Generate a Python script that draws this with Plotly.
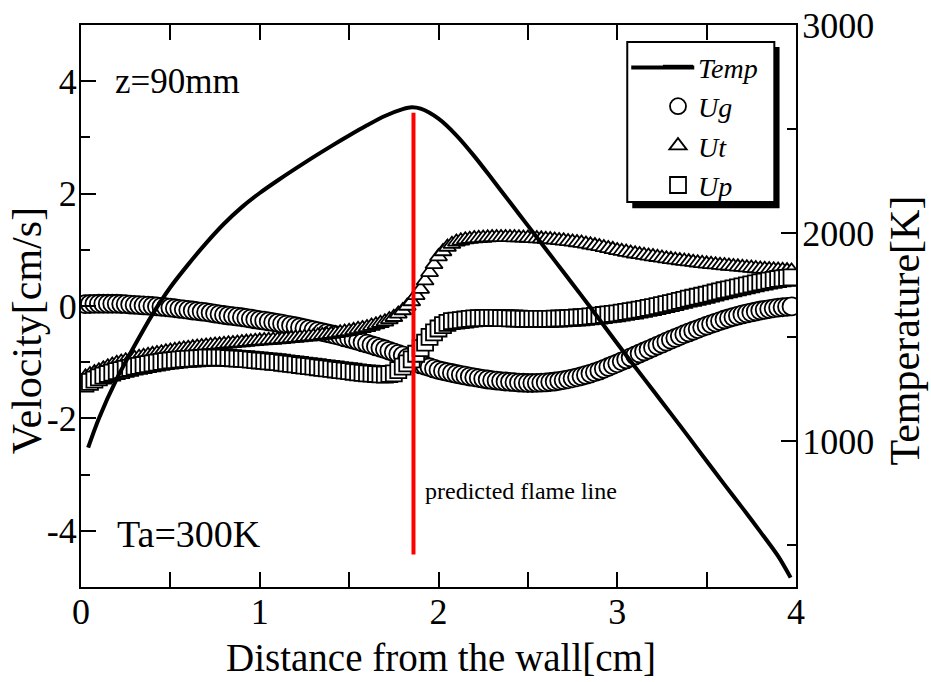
import plotly.graph_objects as go

FONT = "Liberation Serif, Times New Roman, serif"

# distance from the wall [cm] for the velocity samples
x_pos = [
    0.025, 0.05, 0.075,
    0.1, 0.125, 0.15, 0.175, 0.2, 0.225, 0.25, 0.275, 0.3, 0.325, 0.35, 0.375,
    0.4, 0.425, 0.45, 0.475, 0.5, 0.525, 0.55, 0.575, 0.6, 0.625, 0.65, 0.675,
    0.7, 0.725, 0.75, 0.775, 0.8, 0.825, 0.85, 0.875, 0.9, 0.925, 0.95, 0.975,
    1.0, 1.025, 1.05, 1.075, 1.1, 1.125, 1.15, 1.175, 1.2, 1.225, 1.25, 1.275,
    1.3, 1.325, 1.35, 1.375, 1.4, 1.425, 1.45, 1.475, 1.5, 1.525, 1.55, 1.575,
    1.6, 1.625, 1.65, 1.675, 1.7, 1.725, 1.75, 1.775, 1.8, 1.825, 1.85, 1.875,
    1.9, 1.925, 1.95, 1.975, 2.0, 2.025, 2.05, 2.075, 2.1, 2.125, 2.15, 2.175,
    2.2, 2.225, 2.25, 2.275, 2.3, 2.325, 2.35, 2.375, 2.4, 2.425, 2.45, 2.475,
    2.5, 2.525, 2.55, 2.575, 2.6, 2.625, 2.65, 2.675, 2.7, 2.725, 2.75, 2.775,
    2.8, 2.825, 2.85, 2.875, 2.9, 2.925, 2.95, 2.975, 3.0, 3.025, 3.05, 3.075,
    3.1, 3.125, 3.15, 3.175, 3.2, 3.225, 3.25, 3.275, 3.3, 3.325, 3.35, 3.375,
    3.4, 3.425, 3.45, 3.475, 3.5, 3.525, 3.55, 3.575, 3.6, 3.625, 3.65, 3.675,
    3.7, 3.725, 3.75, 3.775, 3.8, 3.825, 3.85, 3.875, 3.9, 3.925, 3.95, 3.975,
]

# gas velocity Ug [cm/s]
ug = [
    0.033, 0.036, 0.038,
    0.04, 0.04, 0.04, 0.04, 0.04, 0.036, 0.032, 0.026, 0.02, 0.015, 0.01, 0.005,
    0.0, -0.008, -0.015, -0.022, -0.03, -0.04, -0.05, -0.06, -0.07, -0.08, -0.09, -0.10,
    -0.11, -0.122, -0.135, -0.148, -0.16, -0.17, -0.18, -0.19, -0.2, -0.212, -0.225, -0.238,
    -0.25, -0.262, -0.275, -0.288, -0.3, -0.315, -0.33, -0.345, -0.36, -0.378, -0.395, -0.412,
    -0.43, -0.448, -0.465, -0.482, -0.5, -0.52, -0.54, -0.56, -0.58, -0.602, -0.625, -0.648,
    -0.67, -0.695, -0.72, -0.745, -0.77, -0.797, -0.825, -0.852, -0.88, -0.92, -0.96, -1.0,
    -1.04, -1.065, -1.09, -1.115, -1.14, -1.158, -1.175, -1.192, -1.21, -1.225, -1.24, -1.255,
    -1.27, -1.283, -1.296, -1.308, -1.32, -1.328, -1.336, -1.343, -1.35, -1.356, -1.362, -1.366,
    -1.37, -1.37, -1.368, -1.365, -1.36, -1.352, -1.343, -1.332, -1.32, -1.304, -1.287, -1.27,
    -1.25, -1.226, -1.202, -1.177, -1.15, -1.118, -1.085, -1.052, -1.02, -0.985, -0.95, -0.915,
    -0.88, -0.845, -0.81, -0.775, -0.74, -0.705, -0.67, -0.635, -0.6, -0.568, -0.535, -0.502,
    -0.47, -0.44, -0.41, -0.38, -0.35, -0.322, -0.295, -0.268, -0.24, -0.218, -0.195, -0.172,
    -0.15, -0.132, -0.115, -0.098, -0.08, -0.068, -0.055, -0.042, -0.03, -0.022, -0.015, -0.007,
]

# thermophoretic velocity Ut [cm/s]
ut = [
    -1.26, -1.22, -1.185,
    -1.15, -1.115, -1.08, -1.05, -1.02, -0.997, -0.975, -0.952, -0.93, -0.912, -0.895, -0.877,
    -0.86, -0.845, -0.83, -0.815, -0.8, -0.787, -0.775, -0.762, -0.75, -0.74, -0.73, -0.72,
    -0.71, -0.702, -0.695, -0.688, -0.68, -0.672, -0.665, -0.657, -0.65, -0.642, -0.635, -0.627,
    -0.62, -0.615, -0.61, -0.605, -0.6, -0.592, -0.585, -0.577, -0.57, -0.562, -0.555, -0.547,
    -0.54, -0.53, -0.52, -0.51, -0.5, -0.488, -0.475, -0.462, -0.45, -0.433, -0.415, -0.398,
    -0.38, -0.357, -0.333, -0.307, -0.28, -0.24, -0.2, -0.14, -0.08, 0.0, 0.08, 0.19,
    0.3, 0.45, 0.6, 0.74, 0.88, 0.97, 1.05, 1.1, 1.14, 1.16, 1.18, 1.19,
    1.2, 1.205, 1.21, 1.215, 1.22, 1.22, 1.22, 1.22, 1.22, 1.218, 1.215, 1.212,
    1.21, 1.205, 1.2, 1.195, 1.19, 1.183, 1.175, 1.168, 1.16, 1.15, 1.14, 1.13,
    1.12, 1.105, 1.09, 1.075, 1.06, 1.042, 1.025, 1.008, 0.99, 0.975, 0.96, 0.945,
    0.93, 0.917, 0.905, 0.892, 0.88, 0.867, 0.855, 0.842, 0.83, 0.82, 0.81, 0.8,
    0.79, 0.78, 0.77, 0.76, 0.75, 0.742, 0.735, 0.727, 0.72, 0.712, 0.705, 0.697,
    0.69, 0.682, 0.675, 0.667, 0.66, 0.655, 0.65, 0.645, 0.64, 0.635, 0.63, 0.625,
]

# particle velocity Up [cm/s]
up = [
    -1.38, -1.35, -1.31,
    -1.27, -1.24, -1.21, -1.185, -1.16, -1.14, -1.12, -1.1, -1.08, -1.065, -1.05, -1.035,
    -1.02, -1.007, -0.995, -0.982, -0.97, -0.962, -0.955, -0.947, -0.94, -0.935, -0.93, -0.925,
    -0.92, -0.92, -0.92, -0.92, -0.92, -0.925, -0.93, -0.935, -0.94, -0.947, -0.955, -0.962,
    -0.97, -0.977, -0.985, -0.992, -1.0, -1.01, -1.02, -1.03, -1.04, -1.05, -1.06, -1.07,
    -1.08, -1.09, -1.1, -1.11, -1.12, -1.13, -1.14, -1.15, -1.16, -1.17, -1.18, -1.19,
    -1.2, -1.205, -1.21, -1.215, -1.22, -1.21, -1.2, -1.14, -1.08, -1.02, -0.95, -0.85,
    -0.75, -0.65, -0.55, -0.47, -0.4, -0.34, -0.3, -0.27, -0.26, -0.25, -0.24, -0.23,
    -0.22, -0.217, -0.215, -0.212, -0.21, -0.212, -0.215, -0.217, -0.22, -0.222, -0.225, -0.228,
    -0.23, -0.23, -0.23, -0.23, -0.23, -0.228, -0.225, -0.222, -0.22, -0.215, -0.21, -0.205,
    -0.2, -0.193, -0.185, -0.177, -0.17, -0.16, -0.15, -0.14, -0.13, -0.117, -0.105, -0.092,
    -0.08, -0.065, -0.05, -0.035, -0.02, -0.002, 0.015, 0.032, 0.05, 0.07, 0.09, 0.11,
    0.13, 0.147, 0.165, 0.182, 0.2, 0.22, 0.24, 0.26, 0.28, 0.297, 0.315, 0.332,
    0.35, 0.367, 0.385, 0.402, 0.42, 0.435, 0.45, 0.465, 0.48, 0.49, 0.5, 0.51,
]

# gas temperature [K]
temp_x = [0.04, 0.1, 0.2, 0.3, 0.4, 0.5, 0.6, 0.7, 0.8, 0.9, 1.0, 1.1, 1.2, 1.3, 1.4,
          1.5, 1.6, 1.7, 1.8, 1.85, 1.9, 2.0, 2.1, 2.2, 2.3, 2.4, 2.5, 2.6, 2.7, 2.8,
          2.9, 3.0, 3.1, 3.2, 3.3, 3.4, 3.5, 3.6, 3.7, 3.8, 3.9, 3.97]
temp_k = [970, 1110, 1300, 1460, 1610, 1740, 1850, 1952, 2045, 2125, 2193, 2253, 2310, 2365, 2418,
          2469, 2518, 2563, 2596, 2605, 2598, 2550, 2470, 2370, 2260, 2148, 2036, 1924, 1812, 1700,
          1585, 1470, 1357, 1245, 1133, 1020, 905, 792, 680, 566, 448, 345]

assert len(x_pos) == len(ug) == len(ut) == len(up)
assert len(temp_x) == len(temp_k)

# predicted flame position and extent
flame_x = 1.86
flame_y = [-4.42, 3.44]

x_ticks = [0, 1, 2, 3, 4]
v_ticks = [-4, -2, 0, 2, 4]
v_ticktext = ["-4", "-2", "0", "2", "4"]
t_ticks = [1000, 2000, 3000]
t_minor = [500, 1500, 2500]

fig = go.Figure()

MARKER_LINE = dict(color="black", width=1.8)
fig.add_trace(go.Scatter(
    x=x_pos, y=ug, name="<i>Ug</i>", mode="markers", legendrank=2,
    marker=dict(symbol="circle", size=18, color="white", line=MARKER_LINE)))
fig.add_trace(go.Scatter(
    x=x_pos, y=ut, name="<i>Ut</i>", mode="markers", legendrank=3,
    marker=dict(symbol="triangle-up", size=15, color="white", line=MARKER_LINE)))
fig.add_trace(go.Scatter(
    x=x_pos, y=up, name="<i>Up</i>", mode="markers", legendrank=4,
    marker=dict(symbol="square", size=16, color="white", line=MARKER_LINE)))
fig.add_trace(go.Scatter(
    x=temp_x, y=temp_k, name="<i>Temp</i>", mode="lines", yaxis="y2", legendrank=1,
    line=dict(color="black", width=4, shape="spline", smoothing=0.8)))

axis_common = dict(
    showgrid=False, zeroline=False, showline=True, linecolor="black", linewidth=2,
    ticks="inside", ticklen=15, tickwidth=2, tickcolor="black",
    tickfont=dict(family=FONT, size=36, color="black"),
)
minor_common = dict(ticks="inside", ticklen=9, tickwidth=2, tickcolor="black")

# plot-area geometry in pixels, used to place paper-anchored decorations
PL, PW, PB, PH = 81, 714.7, 586.7, 561.7

fig.update_layout(
    width=931, height=682,
    margin=dict(l=81, r=135, t=25, b=95, autoexpand=False),
    paper_bgcolor="white", plot_bgcolor="white",
    font=dict(family=FONT, color="black"),
    xaxis=dict(range=[0, 4], tickmode="array", tickvals=x_ticks, mirror="allticks",
               ticklabelstandoff=-8, minor=dict(dtick=0.5, **minor_common), **axis_common),
    yaxis=dict(range=[-5, 5], tickmode="array", tickvals=v_ticks, ticktext=v_ticktext,
               ticklabelstandoff=-5, minor=dict(dtick=1, **minor_common), **axis_common),
    yaxis2=dict(range=[300, 3000], overlaying="y", side="right", tickmode="array", tickvals=t_ticks,
                ticklabelstandoff=-3, minor=dict(tickmode="array", tickvals=t_minor, **minor_common),
                **axis_common),
    legend=dict(x=0.807, y=0.9696, xanchor="left", yanchor="top", bgcolor="rgba(0,0,0,0)",
                borderwidth=0, font=dict(family=FONT, size=28, color="black"),
                tracegroupgap=0),
    showlegend=True,
)

# legend frame with drop shadow
fig.add_shape(type="rect", xref="paper", yref="paper", x0=0.771, x1=0.977, y0=0.674, y1=0.961,
              fillcolor="black", line=dict(color="black", width=0), layer="above")
fig.add_shape(type="rect", xref="paper", yref="paper", x0=0.764, x1=0.9697, y0=0.6849, y1=0.9697,
              fillcolor="white", line=dict(color="black", width=2), layer="above")
# longer line sample for the Temp legend entry
fig.add_shape(type="line", xref="paper", yref="paper", x0=(631 - PL) / PW, x1=(694 - PL) / PW,
              y0=(PB - 67.5) / PH, y1=(PB - 67.5) / PH, line=dict(color="black", width=4),
              layer="above")

# predicted flame line
fig.add_shape(type="line", xref="x", yref="y", x0=flame_x, x1=flame_x, y0=flame_y[0], y1=flame_y[1],
              line=dict(color="#ff0000", width=4), layer="above")

fig.add_annotation(x=1.914, y=-3.3, xref="x", yref="y", text="predicted flame line", showarrow=False,
                   xanchor="left", yanchor="middle", font=dict(family=FONT, size=24, color="black"))
fig.add_annotation(x=0.179, y=4.0, xref="x", yref="y", text="z=90mm", showarrow=False,
                   xanchor="left", yanchor="middle", font=dict(family=FONT, size=35, color="black"))
fig.add_annotation(x=0.19, y=-4.05, xref="x", yref="y", text="Ta=300K", showarrow=False,
                   xanchor="left", yanchor="middle", font=dict(family=FONT, size=38, color="black"))

# axis titles
fig.add_annotation(x=(441 - PL) / PW, y=(PB - 657) / PH, xref="paper", yref="paper",
                   xanchor="center", yanchor="middle", text="Distance from the wall[cm]",
                   showarrow=False, font=dict(family=FONT, size=39, color="black"))
fig.add_annotation(x=(27 - PL) / PW, y=(PB - 330) / PH, xref="paper", yref="paper",
                   xanchor="center", yanchor="middle", text="Velocity[cm/s]", textangle=-90,
                   showarrow=False, font=dict(family=FONT, size=42, color="black"))
fig.add_annotation(x=(905 - PL) / PW, y=(PB - 330) / PH, xref="paper", yref="paper",
                   xanchor="center", yanchor="middle", text="Temperature[K]", textangle=-90,
                   showarrow=False, font=dict(family=FONT, size=42, color="black"))

fig.write_html("out.html")
